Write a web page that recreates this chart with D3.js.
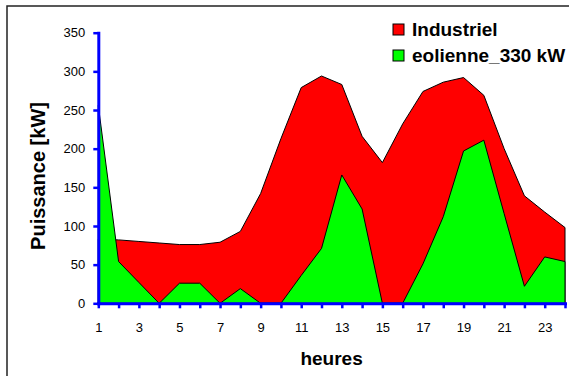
<!DOCTYPE html>
<meta charset="utf-8">
<style>
body { margin: 0; background: #fff; }
svg { font-family: "Liberation Sans", Arial, sans-serif; }
.area { stroke: #000; stroke-width: 1px; stroke-linejoin: miter; }
.axis path, .axis line { stroke: #0000ff; }
.axis path { stroke-width: 3px; }
.axis line { stroke-width: 2.5px; }
.axis text { fill: #000; font-size: 13px; }
</style>
<body>
<script src="https://d3js.org/d3.v7.min.js"></script>
<script>

// hours of the day
var heures = d3.range(1, 25);

// power in kW
var industriel = [83, 82, 80, 78, 76, 76, 79, 93, 142, 213, 279, 294,
                  283, 216, 182, 232, 274, 286, 292, 269, 200, 139, 118, 98];
var eolienne = [256, 54, 27, 0, 26, 26, 0, 19, 0, 0, 36, 71,
                166, 122, 0, 0, 51, 112, 197, 211, 116, 22, 60, 54];

var seriesNames = ["Industriel", "eolienne_330 kW"];
var seriesColors = ["#ff0000", "#00ff00"];
var yTicks = [0, 50, 100, 150, 200, 250, 300, 350];

var W = 569, H = 376;

var svg = d3.select("body").append("svg")
    .attr("width", W)
    .attr("height", H);

// outer frame (runs off the right and bottom of the picture)
svg.append("rect")
    .attr("x", 7).attr("y", 6)
    .attr("width", 620).attr("height", 420)
    .attr("fill", "none")
    .attr("stroke", "#222")
    .attr("stroke-width", 1.5);

var x = d3.scaleLinear().domain([1, 24]).range([98.3, 565]);
var y = d3.scaleLinear().domain([0, 350]).range([303.3, 32.7]);

var area = function(vals) {
  return d3.area()
      .x(function(d, i) { return x(heures[i]); })
      .y0(y(0))
      .y1(function(d) { return y(d); })(vals);
};

// red behind, green in front (not stacked)
[industriel, eolienne].forEach(function(vals, k) {
  svg.append("path")
      .attr("class", "area")
      .attr("fill", seriesColors[k])
      .attr("d", area(vals));
});

// x axis
svg.append("g")
    .attr("class", "axis")
    .attr("transform", "translate(0," + y(0) + ")")
    .call(d3.axisBottom(x)
        .tickValues(heures)
        .tickSizeInner(5)
        .tickSizeOuter(0)
        .tickPadding(14)
        .tickFormat(function(d) { return d % 2 ? d : ""; }));

// y axis
svg.append("g")
    .attr("class", "axis")
    .attr("transform", "translate(" + x(1) + ",0)")
    .call(d3.axisLeft(y)
        .tickValues(yTicks)
        .tickSizeInner(5)
        .tickSizeOuter(0)
        .tickPadding(8));

svg.selectAll(".axis .domain").attr("stroke-linecap", "square");

// axis titles
svg.append("text")
    .attr("x", 331.6).attr("y", 365)
    .attr("text-anchor", "middle")
    .attr("font-size", 19).attr("font-weight", "bold")
    .text("heures");

svg.append("text")
    .attr("transform", "translate(45,176) rotate(-90)")
    .attr("text-anchor", "middle")
    .attr("font-size", 20).attr("font-weight", "bold")
    .text("Puissance [kW]");

// legend
var legend = svg.append("g").attr("transform", "translate(393,24)");
seriesNames.forEach(function(name, k) {
  var row = legend.append("g").attr("transform", "translate(0," + k * 26 + ")");
  row.append("rect")
      .attr("width", 11).attr("height", 11)
      .attr("fill", seriesColors[k])
      .attr("stroke", "#000").attr("stroke-width", 1);
  row.append("text")
      .attr("x", 19).attr("y", 12)
      .attr("font-size", 19).attr("font-weight", "bold")
      .text(name);
});

</script>
</body>
